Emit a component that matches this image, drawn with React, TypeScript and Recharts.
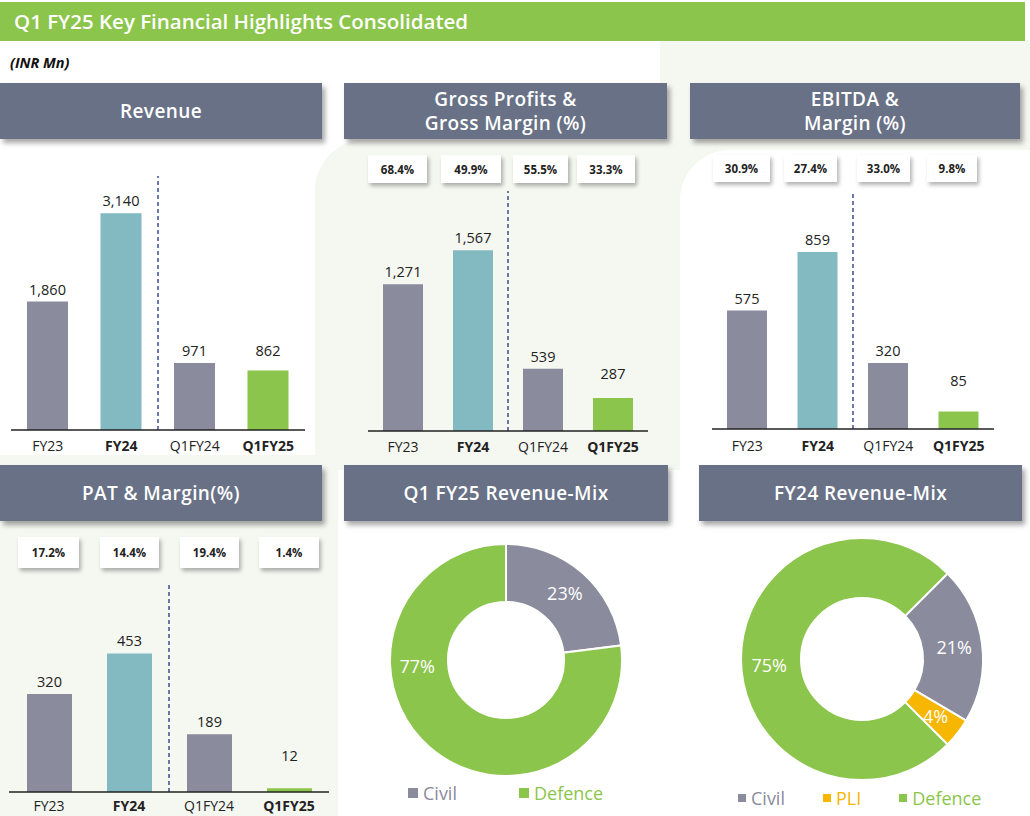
import React from 'react';
import { Bar, BarChart, Cell, LabelList, Pie, PieChart, ReferenceLine, XAxis, YAxis } from 'recharts';

const CATEGORIES = ['FY23', 'FY24', 'Q1FY24', 'Q1FY25'];
const BOLD_CATEGORIES = ['FY24', 'Q1FY25'];

const REVENUE = [1860, 3140, 971, 862];
const GROSS_PROFIT = [1271, 1567, 539, 287];
const GROSS_MARGIN = ['68.4%', '49.9%', '55.5%', '33.3%'];
const EBITDA = [575, 859, 320, 85];
const EBITDA_MARGIN = ['30.9%', '27.4%', '33.0%', '9.8%'];
const PAT = [320, 453, 189, 12];
const PAT_MARGIN = ['17.2%', '14.4%', '19.4%', '1.4%'];

const Q1_MIX_NAMES = ['Civil', 'Defence'];
const Q1_MIX_VALUES = [23, 77];
const FY24_MIX_NAMES = ['Civil', 'PLI', 'Defence'];
const FY24_MIX_VALUES = [21, 4, 75];

const GREY = '#8a8b9c';
const TEAL = '#83b9c1';
const GREEN = '#8cc54c';
const ORANGE = '#f7b600';
const HEADER = '#687186';
const LIGHT_BG = '#f5f7f1';
const BAR_COLORS = [GREY, TEAL, GREY, GREEN];
const MIX_COLORS: Record<string, string> = { Civil: GREY, Defence: GREEN, PLI: ORANGE };

const FONT = '"Open Sans", "Noto Sans", sans-serif';
const RAD = Math.PI / 180;

function Header({ left, top, width, children }: { left: number; top: number; width: number; children: React.ReactNode }) {
  return (
    <div
      style={{
        position: 'absolute',
        left,
        top,
        width,
        height: 56,
        background: HEADER,
        color: '#fff',
        fontSize: 19,
        fontWeight: 600,
        letterSpacing: 0.4,
        lineHeight: '24px',
        display: 'flex',
        alignItems: 'center',
        justifyContent: 'center',
        textAlign: 'center',
        boxShadow: '3px 4px 5px rgba(0,0,0,0.35)',
      }}
    >
      <div>{children}</div>
    </div>
  );
}

function MarginBoxes({ values, boxes, top, height }: { values: string[]; boxes: [number, number][]; top: number; height: number }) {
  return (
    <>
      {values.map((v, i) => (
        <div
          key={v + i}
          style={{
            position: 'absolute',
            left: boxes[i][0],
            top,
            width: boxes[i][1],
            height,
            background: '#fff',
            boxShadow: '2px 3px 4px rgba(0,0,0,0.3)',
            display: 'flex',
            alignItems: 'center',
            justifyContent: 'center',
            fontSize: 11.5,
            fontWeight: 700,
            color: '#222',
            zIndex: 2,
          }}
        >
          {v}
        </div>
      ))}
    </>
  );
}

function CategoryTick(props: any) {
  const { x, y, payload, dy } = props;
  const name = CATEGORIES[payload.value];
  const bold = BOLD_CATEGORIES.includes(name);
  return (
    <text x={x} y={y} dy={dy} textAnchor="middle" fontSize={14} fontWeight={bold ? 700 : 400} fill="#222" fontFamily={FONT}>
      {name}
    </text>
  );
}

function BarPanel({
  values,
  left,
  top,
  width,
  height,
  margin,
  axisHeight,
  domainMax,
  barSize,
  tickDy,
  lastLift,
}: {
  values: number[];
  left: number;
  top: number;
  width: number;
  height: number;
  margin: { top: number; right: number; bottom: number; left: number };
  axisHeight: number;
  domainMax: number;
  barSize: number;
  tickDy: number;
  lastLift: number;
}) {
  const data = CATEGORIES.map((name, idx) => ({ idx, name, value: values[idx] }));
  const renderValue = (p: any) => {
    const { x, y, width: w, value, index } = p;
    const lift = index === CATEGORIES.length - 1 ? lastLift : 0;
    return (
      <text x={x + w / 2} y={y - 7 - lift} textAnchor="middle" fontSize={14.5} fill="#222" fontFamily={FONT}>
        {Number(value).toLocaleString('en-US')}
      </text>
    );
  };
  return (
    <div style={{ position: 'absolute', left, top, zIndex: 1 }}>
      <BarChart width={width} height={height} data={data} margin={margin}>
        <XAxis
          dataKey="idx"
          type="number"
          domain={[-0.5, CATEGORIES.length - 0.5]}
          ticks={CATEGORIES.map((_, i) => i)}
          height={axisHeight}
          tickLine={false}
          tickSize={0}
          axisLine={{ stroke: '#222', strokeWidth: 1.5 }}
          tick={(p: any) => <CategoryTick {...p} dy={tickDy} />}
          interval={0}
        />
        <YAxis hide domain={[0, domainMax]} />
        <ReferenceLine x={1.5} stroke="#3d4d8e" strokeWidth={1.5} strokeDasharray="4 3" />
        <Bar dataKey="value" barSize={barSize} isAnimationActive={false}>
          {data.map((d, i) => (
            <Cell key={d.name} fill={BAR_COLORS[i]} />
          ))}
          <LabelList dataKey="value" content={renderValue} />
        </Bar>
      </BarChart>
    </div>
  );
}

function MixPanel({
  names,
  values,
  left,
  top,
  cx,
  cy,
  inner,
  outer,
  startAngle,
  legendLeft,
  legendGap,
  legendTop,
  squareSize,
}: {
  names: string[];
  values: number[];
  left: number;
  top: number;
  cx: number;
  cy: number;
  inner: number;
  outer: number;
  startAngle: number;
  legendLeft: number;
  legendGap: number;
  legendTop: number;
  squareSize: number;
}) {
  const data = names.map((name, i) => ({ name, value: values[i] }));
  const biggest = Math.max(...values);
  const renderLabel = (p: any) => {
    const { cx: x0, cy: y0, midAngle, innerRadius, outerRadius, value } = p;
    // the largest slice gets its label on the left, as in the source slide
    const angle = value === biggest ? 184 : midAngle;
    const r = (innerRadius + outerRadius) / 2 + 2;
    const x = x0 + r * Math.cos(-angle * RAD);
    const y = y0 + r * Math.sin(-angle * RAD);
    return (
      <text x={x} y={y} textAnchor="middle" dominantBaseline="central" fill="#fff" fontSize={18} fontFamily={FONT}>
        {`${value}%`}
      </text>
    );
  };
  return (
    <>
      <div style={{ position: 'absolute', left, top }}>
        <PieChart width={330} height={270} margin={{ top: 0, right: 0, bottom: 0, left: 0 }}>
          <Pie
            data={data}
            dataKey="value"
            nameKey="name"
            cx={cx}
            cy={cy}
            innerRadius={inner}
            outerRadius={outer}
            startAngle={startAngle}
            endAngle={startAngle - 360}
            stroke="#fff"
            strokeWidth={2}
            label={renderLabel}
            labelLine={false}
            isAnimationActive={false}
          >
            {data.map((d) => (
              <Cell key={d.name} fill={MIX_COLORS[d.name]} />
            ))}
          </Pie>
        </PieChart>
      </div>
      <div style={{ position: 'absolute', left: legendLeft, top: legendTop, display: 'flex', gap: legendGap, fontSize: 18, lineHeight: '24px' }}>
        {names.map((n) => (
          <div key={n} style={{ display: 'flex', alignItems: 'center', color: MIX_COLORS[n] }}>
            <span style={{ display: 'inline-block', width: squareSize, height: squareSize, background: MIX_COLORS[n], marginRight: 5 }} />
            {n}
          </div>
        ))}
      </div>
    </>
  );
}

export default function App() {
  return (
    <div
      style={{
        position: 'absolute',
        left: 0,
        top: 0,
        width: 1030,
        height: 816,
        background: '#fff',
        overflow: 'hidden',
        fontFamily: FONT,
      }}
    >
      {/* background panels */}
      <div style={{ position: 'absolute', left: 660, top: 40, width: 370, height: 110, background: LIGHT_BG }} />
      <div style={{ position: 'absolute', left: 315, top: 140, width: 420, height: 330, background: LIGHT_BG, borderTopLeftRadius: 50 }} />
      <div style={{ position: 'absolute', left: 680, top: 150, width: 350, height: 320, background: '#fff', borderTopLeftRadius: 50 }} />
      <div style={{ position: 'absolute', left: 0, top: 455, width: 338, height: 361, background: LIGHT_BG }} />
      <div style={{ position: 'absolute', left: 338, top: 520, width: 692, height: 296, background: '#fff', borderTopLeftRadius: 40 }} />

      <div
        style={{
          position: 'absolute',
          left: 0,
          top: 2,
          width: 1025,
          height: 39,
          background: GREEN,
          color: '#fff',
          fontSize: 20.5,
          fontWeight: 600,
          lineHeight: '39px',
          paddingLeft: 14,
          boxSizing: 'border-box',
        }}
      >
        Q1 FY25 Key Financial Highlights Consolidated
      </div>
      <div style={{ position: 'absolute', left: 10, top: 53, fontSize: 14.5, fontWeight: 700, fontStyle: 'italic', color: '#111' }}>
        (INR Mn)
      </div>

      <Header left={0} top={83} width={322}>Revenue</Header>
      <Header left={344} top={83} width={323}>
        Gross Profits &amp;
        <br />
        Gross Margin (%)
      </Header>
      <Header left={690} top={83} width={330}>
        EBITDA &amp;
        <br />
        Margin (%)
      </Header>
      <Header left={0} top={465} width={322}>PAT &amp; Margin(%)</Header>
      <Header left={344} top={465} width={324}>Q1 FY25 Revenue-Mix</Header>
      <Header left={699} top={465} width={323}>FY24 Revenue-Mix</Header>

      <MarginBoxes values={GROSS_MARGIN} boxes={[[368, 59], [441, 60], [513, 55], [577, 58]]} top={155} height={28} />
      <MarginBoxes values={EBITDA_MARGIN} boxes={[[713, 57], [784, 53], [857, 53], [927, 50]]} top={155} height={27} />
      <MarginBoxes values={PAT_MARGIN} boxes={[[18, 61], [100, 59], [180, 59], [259, 60]]} top={537} height={31} />

      <BarPanel
        values={REVENUE}
        left={0}
        top={140}
        width={320}
        height={320}
        margin={{ top: 36, right: 15, bottom: 2, left: 11 }}
        axisHeight={28}
        domainMax={3680}
        barSize={41}
        tickDy={19}
        lastLift={8}
      />
      <BarPanel
        values={GROSS_PROFIT}
        left={344}
        top={140}
        width={324}
        height={320}
        margin={{ top: 51, right: 20, bottom: 2, left: 24 }}
        axisHeight={27}
        domainMax={2080}
        barSize={40}
        tickDy={19}
        lastLift={12}
      />
      <BarPanel
        values={EBITDA}
        left={690}
        top={140}
        width={332}
        height={320}
        margin={{ top: 52, right: 28, bottom: 2, left: 22 }}
        axisHeight={29}
        domainMax={1150}
        barSize={40}
        tickDy={20}
        lastLift={18}
      />
      <BarPanel
        values={PAT}
        left={0}
        top={522}
        width={336}
        height={294}
        margin={{ top: 62, right: 7, bottom: 0, left: 9 }}
        axisHeight={24}
        domainMax={680}
        barSize={45}
        tickDy={17}
        lastLift={20}
      />

      <MixPanel
        names={Q1_MIX_NAMES}
        values={Q1_MIX_VALUES}
        left={344}
        top={522}
        cx={162}
        cy={138}
        inner={58}
        outer={116}
        startAngle={90}
        legendLeft={408}
        legendGap={62}
        legendTop={781}
        squareSize={10}
      />
      <MixPanel
        names={FY24_MIX_NAMES}
        values={FY24_MIX_VALUES}
        left={699}
        top={522}
        cx={163}
        cy={137}
        inner={61}
        outer={121}
        startAngle={45}
        legendLeft={738}
        legendGap={38}
        legendTop={786}
        squareSize={8}
      />
    </div>
  );
}
